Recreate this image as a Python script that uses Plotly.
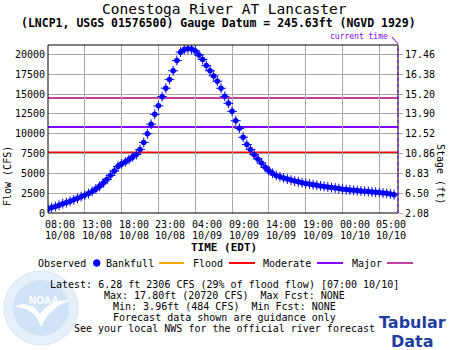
import pandas as pd
import plotly.graph_objects as go

# ---- data -----------------------------------------------------------------
START = "2023-10-08 08:00"
END = "2023-10-10 07:32"

# observed flow (CFS), one reading every 30 minutes from 08:00 10/08
flow_cfs = [
    484, 700, 820, 980, 1180, 1320, 1480, 1660, 1850, 2060,
    2250, 2450, 2720, 3030, 3360, 3780, 4230, 4750, 5300, 5870,
    6200, 6450, 6750, 7080, 7380, 8000, 8900, 9990, 11200, 12450,
    13520, 14680, 15750, 16860, 17950, 19250, 20300, 20620, 20720, 20680,
    20450, 19950, 19370, 18600, 17950, 17300, 16630, 15740, 14720, 13840,
    12830, 11650, 10680, 9560, 8640, 8020, 7350, 6830, 6300, 5760,
    5330, 5000, 4740, 4580, 4420, 4280, 4150, 4030, 3930, 3830,
    3730, 3650, 3570, 3500, 3420, 3350, 3280, 3220, 3150, 3090,
    3010, 2960, 2910, 2870, 2830, 2790, 2740, 2700, 2660, 2620,
    2580, 2530, 2480, 2400, 2306,
]
obs_time = pd.date_range(START, periods=len(flow_cfs), freq="30min")

# flood category flows (CFS)
flood_cfs = 7650
moderate_cfs = 10850
major_cfs = 14500

# axis ticks
flow_ticks = [0, 2500, 5000, 7500, 10000, 12500, 15000, 17500, 20000]
stage_labels = ["2.08", "6.50", "8.83", "10.86", "12.52", "13.90", "15.20", "16.38", "17.46"]
time_ticks = pd.date_range(START, periods=10, freq="5h")
time_labels = [t.strftime("%H:%M") for t in time_ticks]
date_labels = [t.strftime("%m/%d") for t in time_ticks]

summary_lines = [
    "Latest: 6.28 ft 2306 CFS (29% of flood flow) [07:00 10/10]",
    "Max: 17.80ft (20720 CFS)  Max Fcst: NONE",
    "Min: 3.96ft (484 CFS)  Min Fcst: NONE",
    "Forecast data shown are guidance only",
    "See your local NWS for the official river forecast",
]

# ---- styling --------------------------------------------------------------
W, H = 450, 350
L, R, T, B = 48, 398, 45, 213          # plot box in pixels
MONO = "DejaVu Sans Mono"
BLUE = "#0000ff"
RED = "#ff0000"
PURPLE = "#8000ff"
MAGENTA = "#c0409a"
ORANGE = "#ffa500"
GRID = "#a8a8a8"
Y_MAX = 21200


def px(x):
    return (x - L) / (R - L)


def py(y):
    return (B - y) / (B - T)


fig = go.Figure()

# observed flow: filled dots with a thin cross on top
fig.add_trace(go.Scatter(
    x=obs_time, y=flow_cfs, mode="markers",
    marker=dict(symbol="circle", size=5.5, color=BLUE, line=dict(width=0)),
    hoverinfo="skip", showlegend=False))
fig.add_trace(go.Scatter(
    x=obs_time, y=flow_cfs, mode="markers",
    marker=dict(symbol="cross-thin", size=7, line=dict(width=1, color=BLUE)),
    hoverinfo="skip", showlegend=False))
# invisible trace to carry the stage axis
fig.add_trace(go.Scatter(x=[obs_time[0]], y=[0], yaxis="y2", mode="markers",
                         marker=dict(opacity=0), hoverinfo="skip", showlegend=False))

shapes = []
# flood category lines
for val, col in [(flood_cfs, RED), (moderate_cfs, PURPLE), (major_cfs, MAGENTA)]:
    shapes.append(dict(type="line", xref="paper", yref="y", x0=0, x1=1, y0=val, y1=val,
                       line=dict(color=col, width=2), layer="below"))

# plot frame: black left/top/bottom, right edge marks current time
shapes += [
    dict(type="line", xref="paper", yref="paper", x0=0, x1=0, y0=0, y1=1, line=dict(color="black", width=1)),
    dict(type="line", xref="paper", yref="paper", x0=0, x1=1, y0=1, y1=1, line=dict(color="black", width=1)),
    dict(type="line", xref="paper", yref="paper", x0=0, x1=1, y0=0, y1=0, line=dict(color="black", width=1)),
    dict(type="line", xref="paper", yref="paper", x0=1, x1=1, y0=0, y1=1, line=dict(color="black", width=1)),
    dict(type="line", xref="paper", yref="paper", x0=1, x1=1, y0=0, y1=1,
         line=dict(color=PURPLE, width=1, dash="3px,3px")),
    dict(type="line", xref="paper", yref="paper", x0=px(392), x1=px(398), y0=py(37), y1=py(44),
         line=dict(color=PURPLE, width=1)),
]

# legend row
legend_y = 263
shapes.append(dict(type="circle", xref="paper", yref="paper",
                   x0=px(93.5), x1=px(100), y0=py(266.3), y1=py(259.7),
                   fillcolor=BLUE, line=dict(color=BLUE, width=1)))
for x0, x1, col in [(159, 184, ORANGE), (229, 255, RED), (317, 343, PURPLE), (387, 413, MAGENTA)]:
    shapes.append(dict(type="line", xref="paper", yref="paper", x0=px(x0), x1=px(x1),
                       y0=py(legend_y), y1=py(legend_y), line=dict(color=col, width=2)))

# pale agency seal in the lower left
shapes.append(dict(type="circle", xref="paper", yref="paper", x0=px(4), x1=px(78),
                   y0=py(345), y1=py(271), fillcolor="#e6f0fa", line=dict(color="#d6e6f6", width=1),
                   layer="below"))
shapes.append(dict(type="circle", xref="paper", yref="paper", x0=px(13), x1=px(69),
                   y0=py(336), y1=py(280), fillcolor="#cfe2f6", line=dict(width=0), layer="below"))
bird = [(14, 306), (26, 309), (36, 316), (41, 327), (47, 316), (58, 306), (70, 300),
        (56, 301), (45, 308), (40, 314), (34, 307), (24, 304)]
path = "M " + " L ".join(f"{px(a):.4f},{py(b):.4f}" for a, b in bird) + " Z"
shapes.append(dict(type="path", xref="paper", yref="paper", path=path,
                   fillcolor="white", line=dict(width=0), layer="below"))

annotations = []


def text(x, y, s, size=10, color="black", anchor="center", bold=False, family=MONO, angle=0, xref="paper"):
    if bold:
        s = f"<b>{s}</b>"
    annotations.append(dict(
        x=x if xref != "paper" else px(x), y=py(y), xref=xref, yref="paper", text=s,
        showarrow=False, xanchor=anchor, yanchor="middle", textangle=angle,
        font=dict(family=family, size=size, color=color), borderpad=0))


text(224, 8.5, "Conestoga River AT Lancaster", size=14.5)
text(218, 23, "(LNCP1, USGS 01576500) Gauge Datum = 245.63ft (NGVD 1929)", size=11.5, bold=True)
text(389, 37, "current time", size=8, color=PURPLE, anchor="right")

# time axis labels, left-aligned at each gridline
for t, hh, dd in zip(time_ticks, time_labels, date_labels):
    annotations.append(dict(x=t, y=py(224), xref="x", yref="paper", text=hh, showarrow=False,
                            xanchor="left", yanchor="middle", xshift=-4, borderpad=0,
                            font=dict(family=MONO, size=10, color="black")))
    annotations.append(dict(x=t, y=py(235), xref="x", yref="paper", text=dd, showarrow=False,
                            xanchor="left", yanchor="middle", xshift=-4, borderpad=0,
                            font=dict(family=MONO, size=10, color="black")))

text(224, 247, "TIME (EDT)", size=11, bold=True)
text(7, 176, "Flow (CFS)", size=10, angle=-90)
text(441, 174, "Stage (ft)", size=10, angle=90)

# legend labels
for x0, s in [(37, "Observed"), (105, "Bankfull"), (192, "Flood"), (262, "Moderate"), (351, "Major")]:
    text(x0, legend_y, s, anchor="left")

text(43, 300, "<b>NOAA</b>", size=10, color="white", family="Liberation Sans")

for i, s in enumerate(summary_lines):
    text(224, 284 + 11 * i, s)

text(412, 322.5, "Tabular", size=16, color="#1f3fa0", bold=True, family="DejaVu Sans")
text(412, 341.5, "Data", size=16, color="#1f3fa0", bold=True, family="DejaVu Sans")

fig.update_layout(
    width=W, height=H,
    margin=dict(l=L, r=W - R, t=T, b=H - B, pad=0),
    paper_bgcolor="white", plot_bgcolor="white",
    showlegend=False,
    font=dict(family=MONO, size=10, color="black"),
    shapes=shapes,
    annotations=annotations,
    xaxis=dict(range=[START, END], tickvals=time_ticks, showticklabels=False,
               showgrid=True, gridcolor=GRID, gridwidth=1, zeroline=False,
               showline=False, ticks=""),
    yaxis=dict(range=[0, Y_MAX], tickvals=flow_ticks, ticktext=[str(v) for v in flow_ticks],
               showgrid=True, gridcolor=GRID, gridwidth=1, zeroline=False, showline=False,
               ticks="", ticklabelstandoff=2, tickfont=dict(family=MONO, size=10)),
    yaxis2=dict(range=[0, Y_MAX], overlaying="y", side="right", tickvals=flow_ticks,
                ticktext=stage_labels, showgrid=False, zeroline=False, showline=False,
                ticks="outside", ticklen=4, tickcolor=GRID, tickwidth=1,
                tickfont=dict(family=MONO, size=10)),
)

fig.write_html("out.html")
